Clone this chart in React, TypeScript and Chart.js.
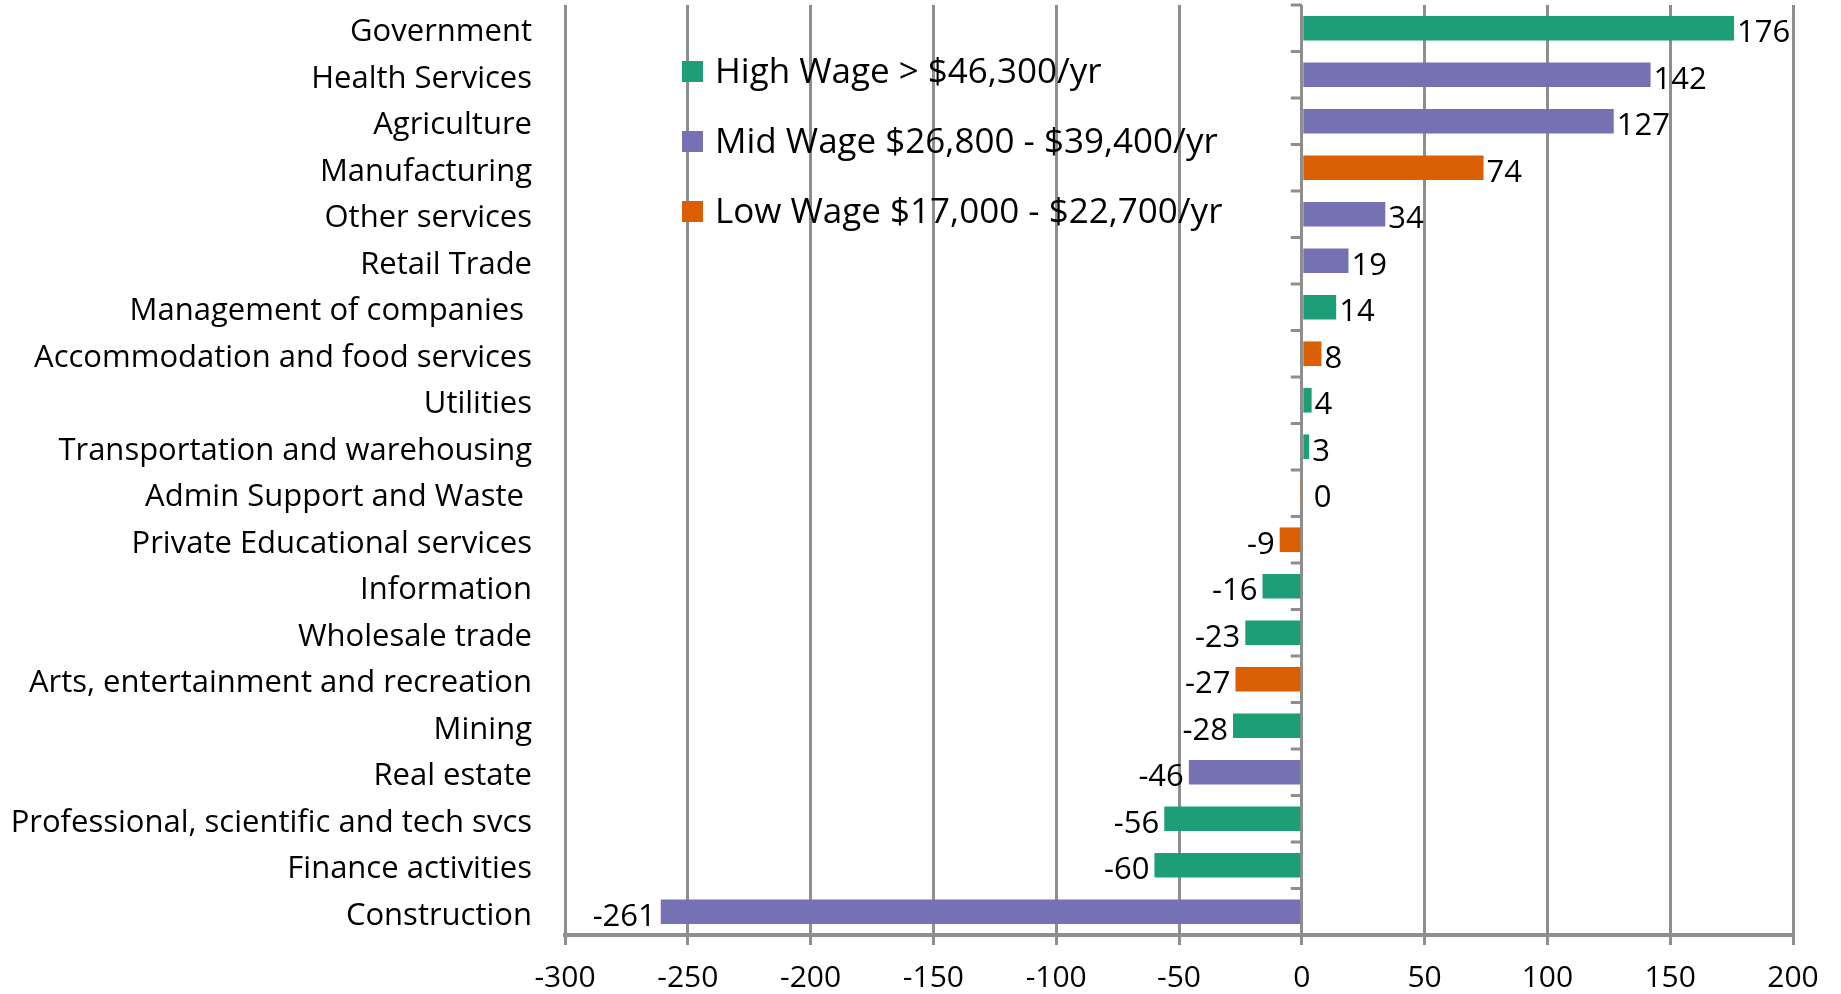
import { useEffect, useRef } from "react";
import { Chart, registerables } from "chart.js";

Chart.register(...registerables);

const categories = [
  "Government",
  "Health Services",
  "Agriculture",
  "Manufacturing",
  "Other services",
  "Retail Trade",
  "Management of companies ",
  "Accommodation and food services",
  "Utilities",
  "Transportation and warehousing",
  "Admin Support and Waste ",
  "Private Educational services",
  "Information",
  "Wholesale trade",
  "Arts, entertainment and recreation",
  "Mining",
  "Real estate",
  "Professional, scientific and tech svcs",
  "Finance activities",
  "Construction",
];

const values = [176, 142, 127, 74, 34, 19, 14, 8, 4, 3, -0.5, -9, -16, -23, -27, -28, -46, -56, -60, -261];

const wageClass = [
  "High", "Mid", "Mid", "Low", "Mid", "Mid", "High", "Low", "High", "High",
  "Low", "Low", "High", "High", "Low", "High", "Mid", "High", "High", "Mid",
];

const seriesKeys = ["High", "Mid", "Low"];
const seriesNames = [
  "High Wage > $46,300/yr",
  "Mid Wage $26,800 - $39,400/yr",
  "Low Wage $17,000 - $22,700/yr",
];
const seriesColors = ["#1c9e77", "#7571b3", "#d95f02"];

const xMin = -300;
const xMax = 200;
const xStep = 50;

const FONT = "'Open Sans', sans-serif";
const GRID = "#8e8e8e";

const fmt = (v: number) => String(Math.round(v) || 0);

const valueLabels = {
  id: "valueLabels",
  afterDatasetsDraw(chart: any) {
    const ctx = chart.ctx;
    ctx.save();
    ctx.font = `31px ${FONT}`;
    ctx.fillStyle = "#000";
    ctx.textBaseline = "middle";
    chart.data.datasets.forEach((ds: any, di: number) => {
      const meta = chart.getDatasetMeta(di);
      meta.data.forEach((el: any, i: number) => {
        const v = ds.data[i];
        if (v === null || v === undefined) return;
        const y = el.y + 5;
        if (v >= 0) {
          ctx.textAlign = "left";
          ctx.fillText(fmt(v), el.x + 3, y);
        } else {
          const r = Math.round(v) === 0;
          ctx.textAlign = r ? "left" : "right";
          ctx.fillText(fmt(v), r ? chart.scales.x.getPixelForValue(0) + 12 : el.x - 5, y);
        }
      });
    });
    ctx.restore();
  },
};

const zeroTicks = {
  id: "zeroTicks",
  afterDatasetsDraw(chart: any) {
    const ctx = chart.ctx;
    const x0 = chart.scales.x.getPixelForValue(0);
    const { top, bottom } = chart.chartArea;
    const n = categories.length;
    const band = (bottom - top) / n;
    ctx.save();
    ctx.strokeStyle = GRID;
    ctx.lineWidth = 3;
    ctx.beginPath();
    for (let i = 0; i < n; i++) {
      const y = top + i * band;
      ctx.moveTo(x0 - 11, y);
      ctx.lineTo(x0, y);
    }
    ctx.stroke();
    ctx.restore();
  },
};

const innerLegend = {
  id: "innerLegend",
  afterDraw(chart: any) {
    const ctx = chart.ctx;
    const { left, top } = chart.chartArea;
    ctx.save();
    ctx.font = `35px ${FONT}`;
    ctx.textBaseline = "middle";
    ctx.textAlign = "left";
    seriesNames.forEach((name, i) => {
      const cy = top + 66 + i * 70;
      const bx = left + 117;
      ctx.fillStyle = seriesColors[i];
      ctx.fillRect(bx, cy - 10, 21, 21);
      ctx.fillStyle = "#000";
      ctx.fillText(name, bx + 33, cy + 2);
    });
    ctx.restore();
  },
};

export default function App() {
  const ref = useRef<HTMLCanvasElement | null>(null);

  useEffect(() => {
    if (!ref.current) return;
    const datasets = seriesKeys.map((key, si) => ({
      label: seriesNames[si],
      data: values.map((v, i) => (wageClass[i] === key ? v : null)),
      backgroundColor: seriesColors[si],
      borderWidth: 0,
      grouped: false,
      barPercentage: 0.53,
      categoryPercentage: 1,
    }));
    const chart = new Chart(ref.current, {
      type: "bar",
      data: { labels: categories, datasets },
      options: {
        indexAxis: "y",
        animation: false,
        responsive: true,
        maintainAspectRatio: false,
        layout: { padding: { top: 5, right: 48, left: 0, bottom: 0 } },
        plugins: {
          legend: { display: false },
          tooltip: { enabled: false },
          title: { display: false },
        },
        scales: {
          x: {
            type: "linear",
            min: xMin,
            max: xMax,
            ticks: {
              stepSize: xStep,
              color: "#000",
              font: { family: FONT, size: 30 },
              padding: 15,
              maxRotation: 0,
            },
            grid: {
              color: GRID,
              lineWidth: 3,
              drawTicks: true,
              tickLength: 10,
              tickColor: GRID,
            },
            border: { display: true, color: GRID, width: 4 },
            afterFit(scale: any) {
              scale.height = 59;
            },
          },
          y: {
            type: "category",
            offset: true,
            ticks: {
              color: "#000",
              font: { family: FONT, size: 31 },
              padding: 33,
              labelOffset: 4,
              autoSkip: false,
            },
            grid: { display: false, drawTicks: false, tickLength: 0 },
            border: { display: false },
            afterFit(scale: any) {
              scale.width = 565;
              scale.paddingTop = 0;
              scale.paddingBottom = 0;
            },
          },
        },
      },
      plugins: [zeroTicks, valueLabels, innerLegend],
    });
    return () => chart.destroy();
  }, []);

  return (
    <div style={{ position: "fixed", left: 0, top: 0, width: 1841, height: 994, background: "#fff" }}>
      <canvas ref={ref} />
    </div>
  );
}
